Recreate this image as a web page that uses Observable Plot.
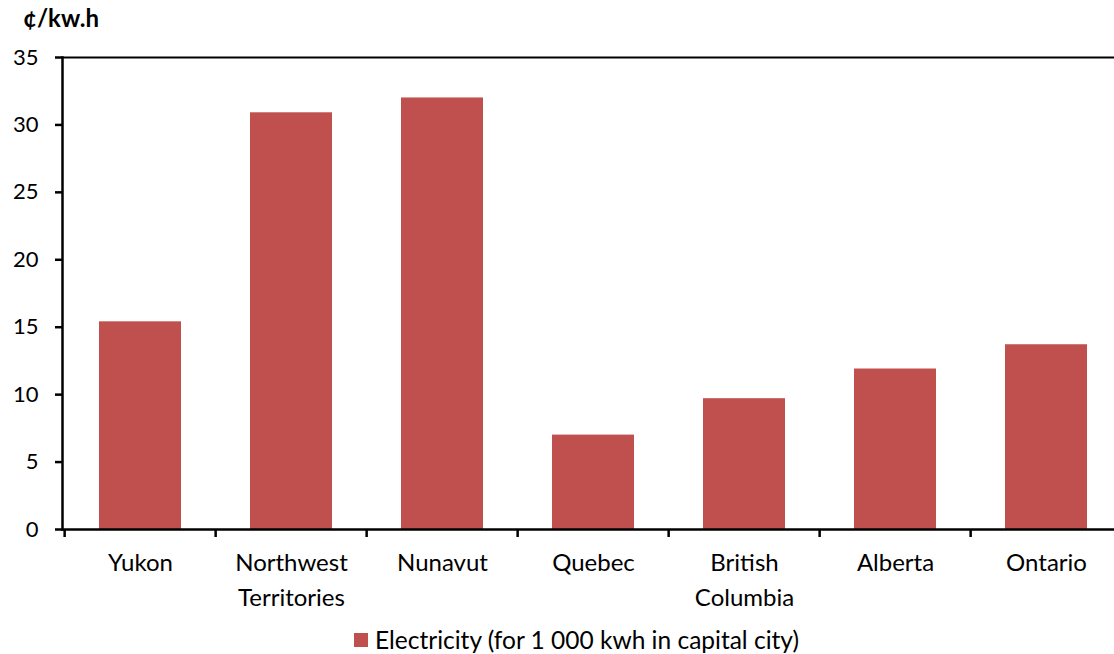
<!DOCTYPE html>
<html>
<head>
<meta charset="utf-8">
<script src="https://cdn.jsdelivr.net/npm/d3@7"></script>
<script src="https://cdn.jsdelivr.net/npm/@observablehq/plot@0.6"></script>
<style>
  html, body { margin: 0; padding: 0; background: #fff; }
  #wrap { position: relative; width: 1114px; height: 654px; overflow: hidden; font-family: Lato, "Liberation Sans", sans-serif; color: #000; background: #fff; }
  #title { position: absolute; left: 23px; top: 3px; font-weight: bold; font-size: 24px; z-index: 2; }
  #chart { position: absolute; left: 0; top: 20px; z-index: 1; }
  #legend { position: absolute; left: 354px; top: 625px; font-size: 24.5px; display: flex; align-items: center; white-space: nowrap; z-index: 2; }
  #legend .sw { width: 14px; height: 14px; background: #C0504D; margin-right: 7px; }
</style>
</head>
<body>
<div id="wrap">
  <div id="title">¢/kw.h</div>
  <div id="chart"></div>
  <div id="legend"><span class="sw"></span><span>Electricity (for 1 000 kwh in capital city)</span></div>
</div>
<script>
const categories = ["Yukon", "Northwest Territories", "Nunavut", "Quebec", "British Columbia", "Alberta", "Ontario"];
const tickLabels = ["Yukon", "Northwest\nTerritories", "Nunavut", "Quebec", "British\nColumbia", "Alberta", "Ontario"];
const values = [15.4, 30.9, 32.0, 7.0, 9.7, 11.9, 13.7];
const yTicks = [0, 5, 10, 15, 20, 25, 30, 35];
const seriesName = "Electricity (for 1 000 kwh in capital city)";

const data = categories.map((c, i) => ({category: c, value: values[i]}));
const labelOf = new Map(categories.map((c, i) => [c, tickLabels[i]]));

const xRange = [62, 1124];
const step = (xRange[1] - xRange[0]) / categories.length;

const chart = Plot.plot({
  width: 1114,
  height: 600,
  marginTop: 37,
  marginBottom: 91,
  marginLeft: 62,
  marginRight: 0,
  style: {fontFamily: "Lato, 'Liberation Sans', sans-serif", fontSize: "22px", color: "#000", background: "transparent"},
  x: {domain: categories, range: xRange, paddingInner: 0.46, paddingOuter: 0.23},
  y: {domain: [0, 35]},
  marks: [
    Plot.barY(data, {x: "category", y: "value", fill: "#C0504D"}),
    Plot.ruleY([35], {stroke: "#000", strokeWidth: 2}),
    Plot.ruleY([0], {stroke: "#000", strokeWidth: 2.5}),
    Plot.frame({anchor: "left", stroke: "#000", strokeWidth: 2.5}),
    Plot.axisY({ticks: yTicks, tickSize: 7, tickPadding: 17, strokeWidth: 2.5, strokeOpacity: 1, label: null, fontSize: 22}),
    Plot.axisX({tickSize: 8, text: null, dx: -step / 2, strokeWidth: 2.5, strokeOpacity: 1, label: null}),
    Plot.axisX({tickSize: 0, tickPadding: 17, tickFormat: d => labelOf.get(d), lineHeight: 1.45, fontSize: 24, label: null})
  ]
});
document.getElementById("chart").appendChild(chart);
</script>
</body>
</html>
